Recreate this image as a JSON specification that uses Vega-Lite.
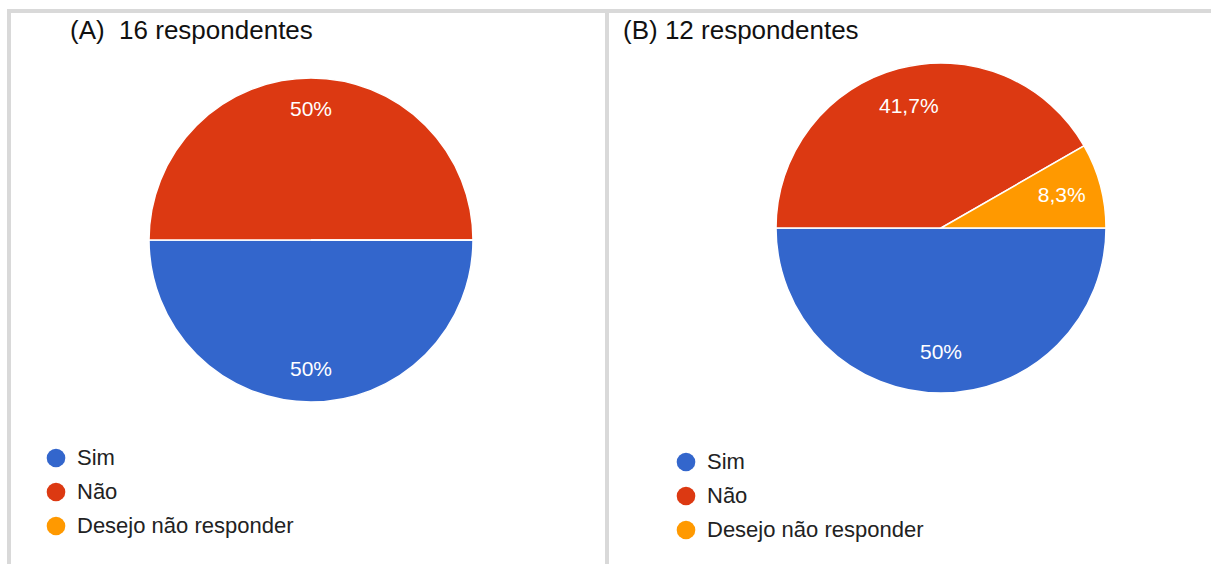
{
  "$schema": "https://vega.github.io/schema/vega-lite/v6.json",
  "padding": {"left": 7, "top": 9, "right": 0, "bottom": 0},
  "background": "white",
  "spacing": 0,
  "bounds": "flush",
  "datasets": {
    "a": [
      {"resposta": "Sim", "ordem": 1, "share": 0.5},
      {"resposta": "Não", "ordem": 2, "share": 0.5},
      {"resposta": "Desejo não responder", "ordem": 3, "share": 0}
    ],
    "b": [
      {"resposta": "Sim", "ordem": 1, "share": 0.5},
      {"resposta": "Não", "ordem": 2, "share": 0.417},
      {"resposta": "Desejo não responder", "ordem": 3, "share": 0.083}
    ]
  },
  "resolve": {"legend": {"color": "independent"}},
  "hconcat": [
    {
      "width": 598,
      "height": 565,
      "view": {"stroke": "#d9d9d9", "strokeWidth": 4},
      "title": {"text": "(A)\u00a0 16 respondentes", "anchor": "start", "frame": "group", "orient": "top", "offset": 0, "baseline": "middle", "dx": 61, "dy": 46, "fontSize": 26, "font": "Liberation Sans", "fontWeight": "normal", "color": "#111"},
      "data": {"name": "a"},
      "encoding": {
        "theta": {"field": "share", "type": "quantitative", "stack": true, "scale": {"range": [1.5708, 7.854]}},
        "order": {"field": "ordem", "type": "quantitative"},
        "color": {"field": "resposta", "type": "nominal", "scale": {"domain": ["Sim", "Não", "Desejo não responder"], "range": ["#3366cc", "#dc3912", "#ff9900"]},
          "legend": {"orient": "none", "legendX": 36, "legendY": 436, "title": null, "symbolType": "circle", "symbolSize": 346, "symbolStrokeWidth": 0, "labelFontSize": 22, "labelFont": "Liberation Sans", "labelColor": "#222", "labelLimit": 400, "rowPadding": 12, "labelOffset": 10, "padding": 0}}
      },
      "layer": [
        {"mark": {"type": "arc", "radius": 162, "stroke": "white", "strokeWidth": 1.5, "x": 302, "y": 229}},
        {"transform": [{"filter": "datum.share > 0"}],
          "mark": {"type": "text", "radius": 130, "fontSize": 21, "font": "Liberation Sans", "baseline": "middle", "align": "center", "x": 302, "y": 229},
          "encoding": {"text": {"field": "share", "type": "quantitative", "format": ".1~%"}, "color": {"value": "white"}}}
      ]
    },
    {
      "width": 612,
      "height": 565,
      "view": {"stroke": "#d9d9d9", "strokeWidth": 4},
      "title": {"text": "(B) 12 respondentes", "anchor": "start", "frame": "group", "orient": "top", "offset": 0, "baseline": "middle", "dx": 16, "dy": 46, "fontSize": 26, "font": "Liberation Sans", "fontWeight": "normal", "color": "#111"},
      "data": {"name": "b"},
      "encoding": {
        "theta": {"field": "share", "type": "quantitative", "stack": true, "scale": {"range": [1.5708, 7.854]}},
        "order": {"field": "ordem", "type": "quantitative"},
        "color": {"field": "resposta", "type": "nominal", "scale": {"domain": ["Sim", "Não", "Desejo não responder"], "range": ["#3366cc", "#dc3912", "#ff9900"]},
          "legend": {"orient": "none", "legendX": 68, "legendY": 440, "title": null, "symbolType": "circle", "symbolSize": 346, "symbolStrokeWidth": 0, "labelFontSize": 22, "labelFont": "Liberation Sans", "labelColor": "#222", "labelLimit": 400, "rowPadding": 12, "labelOffset": 10, "padding": 0}}
      },
      "layer": [
        {"mark": {"type": "arc", "radius": 165, "stroke": "white", "strokeWidth": 1.5, "x": 334, "y": 217}},
        {"transform": [{"filter": "datum.share > 0"}],
          "mark": {"type": "text", "radius": 125, "fontSize": 21, "font": "Liberation Sans", "baseline": "middle", "align": "center", "x": 334, "y": 217},
          "encoding": {"text": {"field": "share", "type": "quantitative", "format": ".1~%"}, "color": {"value": "white"}}}
      ]
    }
  ],
  "config": {
    "view": {"stroke": "#d9d9d9", "strokeWidth": 4},
    "locale": {"number": {"decimal": ",", "thousands": ".", "grouping": [3], "currency": ["R$", ""]}}
  }
}
